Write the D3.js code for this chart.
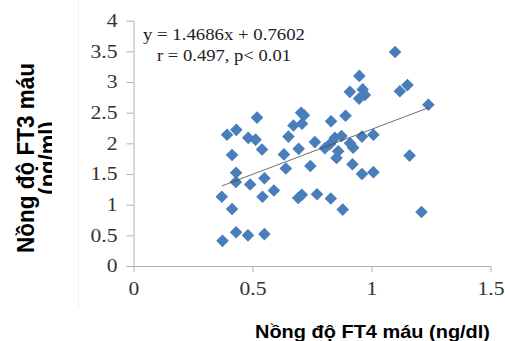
<!DOCTYPE html>
<html><head><meta charset="utf-8">
<script src="https://cdn.jsdelivr.net/npm/d3@7"></script>
<style>body{margin:0;background:#fff}svg{display:block}</style>
</head><body>
<script>
// FT4 (ng/dl) and FT3 (pg/ml) values
const ft4 = [0.374,0.371,0.393,0.432,0.414,0.431,0.430,0.414,0.431,0.481,0.482,0.513,0.490,0.519,0.540,0.550,0.542,0.550,0.590,0.632,0.640,0.651,0.672,0.704,0.716,0.708,0.694,0.692,0.707,0.743,0.762,0.771,0.804,0.829,0.830,0.826,0.846,0.853,0.860,0.874,0.879,0.891,0.909,0.910,0.923,0.920,0.949,0.948,0.963,0.972,0.960,0.960,1.008,1.008,1.099,1.119,1.151,1.160,1.210,1.239];
const ft3 = [0.41,1.13,2.14,2.22,1.81,1.52,1.37,0.93,0.55,0.50,2.09,2.06,1.33,2.42,1.90,1.43,1.13,0.52,1.23,1.82,1.59,2.11,2.29,2.50,2.46,2.32,1.91,1.11,1.16,1.63,2.02,1.17,1.92,1.10,2.36,1.99,2.09,1.76,1.87,2.12,0.92,2.45,2.84,2.00,1.93,1.66,3.10,2.73,2.88,2.79,2.11,1.50,2.14,1.53,3.49,2.85,2.95,1.80,0.88,2.63];
const xTicks = [0, 0.5, 1, 1.5];
const yTicks = [0, 0.5, 1, 1.5, 2, 2.5, 3, 3.5, 4];
const slope = 1.4686, intercept = 0.7602;
const eqText = "y = 1.4686x + 0.7602";
const statText = "r = 0.497, p< 0.01";
const xTitle = "Nồng độ FT4 máu (ng/dl)";
const yTitle1 = "Nồng độ FT3 máu";
const yTitle2 = "(pg/ml)";

const W = 505, H = 341;
const svg = d3.select("body").append("svg").attr("width", W).attr("height", H);
svg.append("rect").attr("width", W).attr("height", H).attr("fill", "#fff");
svg.append("line").attr("x1", 78.5).attr("x2", 78.5).attr("y1", 0).attr("y2", 308)
  .attr("stroke", "#f0f0f0").attr("stroke-width", 1);

const x = d3.scaleLinear().domain([0, 1.5]).range([133.5, 490.5]);
const y = d3.scaleLinear().domain([0, 4]).range([266, 20.7]);

const serif = "'Liberation Serif', 'Times New Roman', serif";
const sans = "'Liberation Sans', Arial, sans-serif";

// axes
const gx = svg.append("g").attr("transform", `translate(0,${y(0)})`)
  .call(d3.axisBottom(x).tickValues(xTicks).tickFormat(d => String(d)).tickSize(6).tickSizeOuter(0).tickPadding(10));
const gy = svg.append("g").attr("transform", `translate(${x(0)},0)`)
  .call(d3.axisLeft(y).tickValues(yTicks).tickFormat(d => String(d)).tickSize(7).tickSizeOuter(0).tickPadding(9));
[gx, gy].forEach(g => {
  g.select(".domain").attr("stroke", "#b0b0b0");
  g.selectAll(".tick line").attr("stroke", "#b0b0b0");
  g.selectAll(".tick text").attr("font-family", serif).attr("font-size", 18).attr("fill", "#333")
    .each(function () {
      const w = this.getComputedTextLength();
      d3.select(this).attr("textLength", w * 1.2).attr("lengthAdjust", "spacingAndGlyphs");
    });
});
gx.select(".domain").attr("d", `M${x(0)-7},0.5H${x(1.5)}`);

// points
const r = 6.3;
svg.append("g").selectAll("path").data(ft4.map((v, i) => [v, ft3[i]])).join("path")
  .attr("d", d => `M${x(d[0])},${y(d[1]) - r}L${x(d[0]) + r},${y(d[1])}L${x(d[0])},${y(d[1]) + r}L${x(d[0]) - r},${y(d[1])}Z`)
  .attr("fill", "#4a7ebb");

// trend line
const xmin = d3.min(ft4), xmax = d3.max(ft4);
svg.append("line")
  .attr("x1", x(xmin)).attr("y1", y(slope * xmin + intercept))
  .attr("x2", x(xmax)).attr("y2", y(slope * xmax + intercept))
  .attr("stroke", "#444").attr("stroke-width", 0.9).attr("opacity", 0.85);

// annotation
svg.append("text").attr("x", 143).attr("y", 40).attr("font-family", serif).attr("font-size", 17)
  .attr("fill", "#222").attr("textLength", 162).attr("lengthAdjust", "spacingAndGlyphs").text(eqText);
svg.append("text").attr("x", 157).attr("y", 61).attr("font-family", serif).attr("font-size", 17)
  .attr("fill", "#222").attr("textLength", 134).attr("lengthAdjust", "spacingAndGlyphs").text(statText);

// axis titles
svg.append("text").attr("x", 255).attr("y", 338).attr("font-family", sans).attr("font-weight", "bold")
  .attr("font-size", 19).attr("fill", "#000").attr("textLength", 235).attr("lengthAdjust", "spacingAndGlyphs").text(xTitle);

svg.append("clipPath").attr("id", "yclip").append("rect").attr("x", 0).attr("y", 0).attr("width", 52).attr("height", H);
const yt = svg.append("g").attr("clip-path", "url(#yclip)");
yt.append("text").attr("transform", "translate(34,158) scale(1.12,1) rotate(-90)").attr("text-anchor", "middle")
  .attr("font-family", sans).attr("font-weight", "bold").attr("font-size", 22).attr("fill", "#000")
  .attr("textLength", 190).attr("lengthAdjust", "spacingAndGlyphs").text(yTitle1);
yt.append("text").attr("transform", "translate(56,158) scale(1.12,1) rotate(-90)").attr("text-anchor", "middle")
  .attr("font-family", sans).attr("font-weight", "bold").attr("font-size", 22).attr("fill", "#000")
  .text(yTitle2);
</script>
</body></html>
